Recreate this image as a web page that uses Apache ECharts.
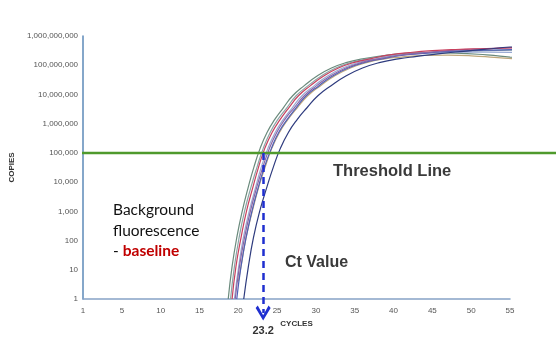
<!DOCTYPE html>
<html>
<head>
<meta charset="utf-8">
<style>
  html, body { margin: 0; padding: 0; background: #ffffff; }
  #chart { width: 556px; height: 341px; }
</style>
<script src="https://cdn.jsdelivr.net/npm/echarts@6/dist/echarts.min.js"></script>
</head>
<body>
<div id="chart"></div>
<script>
// Amplification curves: [cycle, copies]
const curveGreen  = [[18.7,1],[19.2,13],[19.8,125],[20.5,1000],[21.3,7000],[22.0,3.2e4],[22.8,1.4e5],[23.7,5e5],[24.7,1.4e6],[25.8,3.5e6],[27.0,9e6],[28.5,2e7],[30.1,4.2e7],[32,8e7],[34,1.25e8],[36,1.65e8],[38.5,2.1e8],[41,2.5e8],[44,2.7e8],[48,2.6e8],[52,2.25e8],[55,1.9e8],[58.2,1.6e8]];
const curveTeal   = [[19.0,1],[19.5,13],[20.1,125],[20.8,1000],[21.65,7000],[22.4,3.2e4],[23.2,1.4e5],[24.1,5e5],[25.1,1.4e6],[26.25,3.5e6],[27.45,9e6],[29.0,2e7],[30.65,4.2e7],[32.55,8e7],[34.6,1.25e8],[36.65,1.65e8],[39,2.05e8],[41.5,2.4e8],[44,2.7e8],[48,3e8],[52,3.15e8],[55,3.3e8],[58.2,3.4e8]];
const curveRed    = [[19.2,1],[19.7,13],[20.35,125],[21.05,1000],[21.9,7000],[22.6,3.2e4],[23.4,1.4e5],[24.35,5e5],[25.4,1.4e6],[26.5,3.5e6],[27.75,9e6],[29.3,2e7],[30.95,4.2e7],[32.9,8e7],[34.95,1.25e8],[37,1.65e8],[39.5,2.25e8],[42,2.7e8],[45,3.15e8],[48,3.45e8],[52,3.7e8],[55,3.9e8],[58.2,4e8]];
const curveSteel  = [[19.5,1],[20.05,13],[20.65,125],[21.4,1000],[22.25,7000],[22.95,3.2e4],[23.8,1.4e5],[24.75,5e5],[25.8,1.4e6],[26.95,3.5e6],[28.2,9e6],[29.8,2e7],[31.45,4.2e7],[33.45,8e7],[35.55,1.25e8],[37.65,1.65e8],[40,2.15e8],[42.5,2.45e8],[45.5,2.7e8],[49,2.8e8],[52,2.8e8],[55,2.75e8],[58.2,2.6e8]];
const curvePurple = [[19.6,1],[20.15,13],[20.8,125],[21.55,1000],[22.4,7000],[23.15,3.2e4],[24,1.4e5],[24.95,5e5],[26,1.4e6],[27.2,3.5e6],[28.5,9e6],[30.1,2e7],[31.8,4.2e7],[33.85,8e7],[35.95,1.25e8],[38.1,1.65e8],[40.5,2.15e8],[43,2.55e8],[46,3e8],[49,3.4e8],[52,3.7e8],[55,4e8],[58.2,4.25e8]];
const curveBlue   = [[19.8,1],[20.35,13],[21,125],[21.75,1000],[22.6,7000],[23.35,3.2e4],[24.25,1.4e5],[25.2,5e5],[26.3,1.4e6],[27.45,3.5e6],[28.75,9e6],[30.4,2e7],[32.1,4.2e7],[34.15,8e7],[36.3,1.25e8],[38.5,1.65e8],[41,2.15e8],[43.5,2.5e8],[46.5,2.9e8],[50,3.15e8],[53,3.3e8],[55.5,3.4e8],[58.2,3.45e8]];
const curveTan    = [[20.0,4],[20.35,13],[21,125],[21.8,1000],[22.65,7000],[23.45,3.2e4],[24.3,1.4e5],[25.3,5e5],[26.4,1.4e6],[27.6,3.5e6],[28.95,9e6],[30.6,2e7],[32.35,4.2e7],[34.45,8e7],[36.65,1.25e8],[38.85,1.65e8],[41,1.9e8],[44,2.15e8],[47,2.2e8],[50,2.1e8],[53,1.85e8],[55.5,1.65e8],[58.2,1.45e8]];
const curveNavy   = [[20.7,1],[21.3,13],[21.95,125],[22.75,1000],[23.7,7000],[24.5,3.2e4],[25.4,1.4e5],[26.45,5e5],[27.6,1.4e6],[28.85,3.5e6],[30.25,9e6],[31.95,2e7],[33.8,4.2e7],[36,8e7],[38.3,1.25e8],[40.6,1.65e8],[43,2e8],[46,2.5e8],[49,3e8],[52,3.55e8],[55,4.2e8],[58.2,4.8e8]];

const curves = [
  { data: curveGreen,  color: '#6a8a7c' },
  { data: curveTeal,   color: '#8aa6a6' },
  { data: curveSteel,  color: '#9aaad2' },
  { data: curveTan,    color: '#bfa77a' },
  { data: curveBlue,   color: '#4e5fb6' },
  { data: curvePurple, color: '#8a66a6' },
  { data: curveRed,    color: '#c8405e' },
  { data: curveNavy,   color: '#2e3b7e' }
];

const thresholdCopies = 1e5;
const ctValue = 23.2;
const ctArrowEnd = 0.33;          // copies value just below the x axis where the arrow sits
const xTicks = [0, 55, 5];        // min, max, step
const yRange = [1, 1e9];

const chart = echarts.init(document.getElementById('chart'), null, { renderer: 'canvas' });

const tickFont = { fontFamily: 'Liberation Sans, Arial, sans-serif', fontSize: 8, color: '#555' };
const nameFont = { fontFamily: 'Liberation Sans, Arial, sans-serif', fontSize: 8, fontWeight: 'bold', color: '#333' };

const series = curves.map(c => ({
  type: 'line',
  xAxisIndex: 0,
  yAxisIndex: 0,
  data: c.data,
  smooth: 0.5,
  symbol: 'none',
  clip: false,
  lineStyle: { color: c.color, width: 1.2 },
  z: 3
}));

// threshold across the full width
series.push({
  type: 'line',
  xAxisIndex: 1,
  yAxisIndex: 1,
  data: [[0, thresholdCopies], [1, thresholdCopies]],
  symbol: 'none',
  lineStyle: { color: '#4f9a2c', width: 2.5 },
  z: 4
});

// Ct marker: dashed drop from the threshold to the cycle axis
series.push({
  type: 'lines',
  coordinateSystem: 'cartesian2d',
  xAxisIndex: 0,
  yAxisIndex: 0,
  clip: false,
  symbol: ['none', 'path://M0,7 L5,0 L10,7 L8.6,8.4 L5,3 L1.4,8.4 Z'],
  symbolSize: [14, 15],
  lineStyle: { color: '#1f2fd0', width: 2.5, type: [7, 5], opacity: 1 },
  itemStyle: { color: '#1f2fd0' },
  label: {
    show: true,
    position: 'end',
    distance: 12,
    formatter: String(ctValue),
    fontFamily: 'Liberation Sans, Arial, sans-serif',
    fontSize: 11,
    fontWeight: 'bold',
    color: '#333'
  },
  data: [{ coords: [[ctValue, thresholdCopies], [ctValue, ctArrowEnd]] }],
  z: 5
});

chart.setOption({
  animation: false,
  backgroundColor: '#ffffff',
  grid: [
    { left: 82, right: 46, top: 36, bottom: 42 },
    { left: 82, right: 0, top: 36, bottom: 42 }
  ],
  xAxis: [
    {
      gridIndex: 0,
      type: 'value',
      min: xTicks[0],
      max: xTicks[1],
      interval: xTicks[2],
      name: 'CYCLES',
      nameLocation: 'middle',
      nameGap: 20,
      nameTextStyle: nameFont,
      axisLine: { show: true, lineStyle: { color: '#86a3c6', width: 1.5 } },
      axisTick: { show: false },
      splitLine: { show: false },
      axisLabel: Object.assign({ margin: 8, formatter: v => (v === 0 ? '1' : String(v)) }, tickFont)
    },
    { gridIndex: 1, type: 'value', min: 0, max: 1, show: false }
  ],
  yAxis: [
    {
      gridIndex: 0,
      type: 'log',
      logBase: 10,
      min: yRange[0],
      max: yRange[1],
      name: 'COPIES',
      nameLocation: 'middle',
      nameGap: 57,
      nameRotate: 90,
      nameTextStyle: nameFont,
      axisLine: { show: true, lineStyle: { color: '#5d8ab8', width: 1.5 } },
      axisTick: { show: false },
      splitLine: { show: false },
      axisLabel: Object.assign({ margin: 5, formatter: v => Math.round(v).toLocaleString('en-US') }, tickFont)
    },
    { gridIndex: 1, type: 'log', logBase: 10, min: yRange[0], max: yRange[1], show: false }
  ],
  series: series,
  graphic: [
    {
      type: 'text', left: 333, top: 163, z: 10,
      style: { text: 'Threshold Line', font: 'bold 16.5px "Liberation Sans", Arial, sans-serif', fill: '#3a3a3a' }
    },
    {
      type: 'text', left: 285, top: 255, z: 10,
      style: { text: 'Ct Value', font: 'bold 16px "Liberation Sans", Arial, sans-serif', fill: '#3a3a3a' }
    },
    {
      type: 'text', left: 113, top: 200, z: 10,
      style: {
        text: 'Background\nfluorescence\n- {b|baseline}',
        font: '15.5px Lato, "Open Sans", sans-serif',
        lineHeight: 20.5,
        fill: '#111',
        rich: { b: { font: 'bold 15.5px Lato, "Open Sans", sans-serif', fill: '#c00000', lineHeight: 20.5 } }
      }
    }
  ]
});
</script>
</body>
</html>
